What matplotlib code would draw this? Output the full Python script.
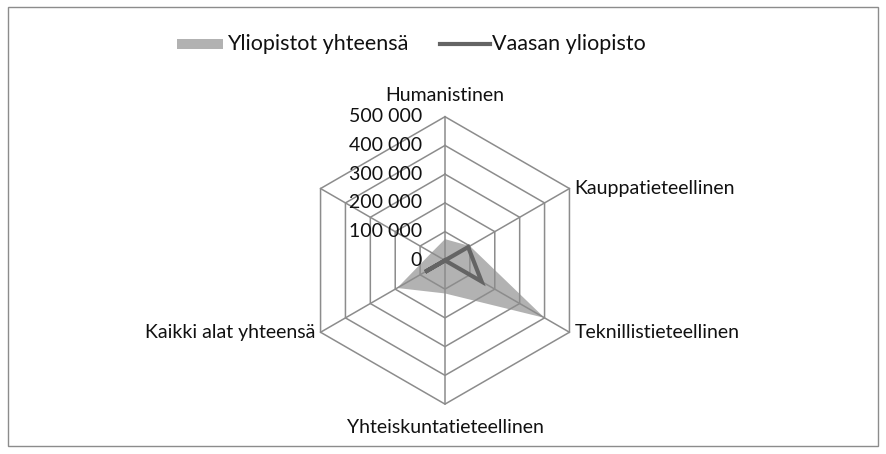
import numpy as np
import matplotlib
matplotlib.use("Agg")
import matplotlib.pyplot as plt
from matplotlib.patches import Rectangle
from matplotlib.lines import Line2D

plt.rcParams['font.family'] = ['Lato', 'DejaVu Sans']

# data
categories = ['Humanistinen', 'Kauppatieteellinen', 'Teknillistieteellinen',
              'Yhteiskuntatieteellinen', 'Kaikki alat yhteensä', '']
yliopistot = [74000, 100000, 400000, 115000, 192000, 54000]
vaasa = [0, 93000, 147000, 0, 80000, 0]
ticks = [0, 100000, 200000, 300000, 400000, 500000]
tick_labels = ['0', '100 000', '200 000', '300 000', '400 000', '500 000']
rmax = 500000

fig = plt.figure(figsize=(8.87, 4.54), dpi=100)
fig.patches.append(Rectangle((8 / 887, 1 - 446 / 454), 870 / 887, 439 / 454,
                             transform=fig.transFigure, fill=False,
                             edgecolor='#8c8c8c', lw=1))

# axes so that centre sits at (445, 260) px, radius ~144 px
R = 143.7
ax = fig.add_axes([(445 - R) / 887, (454 - 260.4 - R) / 454, 2 * R / 887, 2 * R / 454])
ax.set_xlim(-rmax, rmax)
ax.set_ylim(-rmax, rmax)
ax.axis('off')

n = len(categories)
ang = np.arange(n) * 2 * np.pi / n

def xy(vals):
    v = np.asarray(vals, dtype=float)
    x = v * np.sin(ang)
    y = v * np.cos(ang)
    return np.append(x, x[0]), np.append(y, y[0])

gx, gy = xy(yliopistot)
ax.fill(gx, gy, color='#b2b2b2', lw=0, zorder=1)

grid_c = '#8c8c8c'
for t in ticks[1:]:
    rx, ry = xy([t] * n)
    ax.plot(rx, ry, color=grid_c, lw=1.1, zorder=2, clip_on=False)
for a in ang:
    ax.plot([0, rmax * np.sin(a)], [0, rmax * np.cos(a)], color=grid_c, lw=1.1,
            zorder=2, clip_on=False)

vx, vy = xy(vaasa)
ax.plot(vx, vy, color='#646464', lw=3, zorder=3, solid_joinstyle='miter')

for t, lab in zip(ticks, tick_labels):
    ax.text(-80000, t, lab, ha='right', va='center', fontsize=14, color='#111111')

for a, lab in zip(ang, categories):
    s, c = np.sin(a), np.cos(a)
    if abs(s) < 0.01:
        ha = 'center'
        x, y = 0, c * rmax * (1.145 if c > 0 else 1.165)
    else:
        ha = 'left' if s > 0 else 'right'
        x, y = s * rmax + np.sign(s) * 18000, c * rmax
    ax.text(x, y, lab, ha=ha, va='center', fontsize=14, color='#111111', clip_on=False)

# legend
fig.patches.append(Rectangle((177 / 887, 1 - 49 / 454), 46 / 887, 10 / 454,
                             transform=fig.transFigure, color='#b2b2b2', lw=0))
fig.text(227 / 887, 1 - 44 / 454, 'Yliopistot yhteensä', ha='left', va='center',
         fontsize=15.5, color='#111111')
fig.lines.append(Line2D([440 / 887, 490 / 887], [1 - 44 / 454, 1 - 44 / 454],
                        transform=fig.transFigure, color='#646464', lw=3))
fig.text(492 / 887, 1 - 44 / 454, 'Vaasan yliopisto', ha='left', va='center',
         fontsize=15.5, color='#111111')

fig.savefig('out.png', dpi=100)
